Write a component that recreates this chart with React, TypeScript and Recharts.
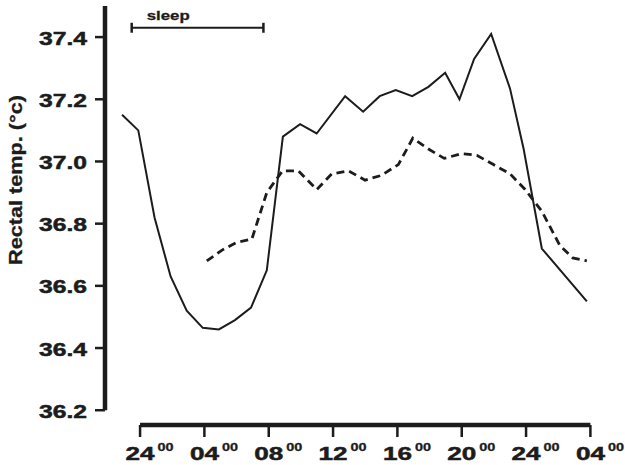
import React from 'react';
import { LineChart, Line, XAxis, YAxis, ReferenceLine } from 'recharts';

// ---- data ----
const solidHours = [-1.12, -0.11, 0.9, 1.9, 2.9, 3.9, 4.9, 5.9, 6.9, 7.88, 8.88, 9.95, 10.98, 12.75, 13.87, 14.9, 15.9, 16.92, 17.93, 18.97, 19.86, 20.77, 21.83, 23.0, 23.85, 24.98, 27.78];
const solidTemps = [37.15, 37.1, 36.82, 36.63, 36.52, 36.465, 36.46, 36.49, 36.53, 36.65, 37.08, 37.12, 37.09, 37.21, 37.16, 37.21, 37.23, 37.21, 37.24, 37.285, 37.2, 37.33, 37.41, 37.235, 37.04, 36.72, 36.55];

const dashedHours = [4.15, 5.1, 6.01, 6.95, 7.88, 8.86, 9.84, 10.99, 11.92, 12.95, 13.99, 14.99, 16.06, 16.96, 17.93, 18.91, 20.0, 20.94, 21.97, 23.01, 23.94, 24.98, 26.1, 26.9, 27.78];
const dashedTemps = [36.68, 36.715, 36.74, 36.75, 36.9, 36.97, 36.97, 36.91, 36.96, 36.97, 36.94, 36.955, 36.99, 37.075, 37.04, 37.01, 37.025, 37.02, 36.99, 36.96, 36.91, 36.84, 36.73, 36.69, 36.68];

const xTicks = [0, 4, 8, 12, 16, 20, 24, 28];
const xTickLabels = ['24', '04', '08', '12', '16', '20', '24', '04'];
const xTickSuper = '00';
const yTicks = [36.2, 36.4, 36.6, 36.8, 37.0, 37.2, 37.4];
const yTitle = 'Rectal temp. (°c)';
const sleepLabel = 'sleep';
const sleepStart = -0.52;
const sleepEnd = 7.67;
const sleepLevel = 37.43;
const sleepCapLow = 37.414;
const sleepCapHigh = 37.446;

const xDomain: [number, number] = [-2.18, 28.1];
const yDomain: [number, number] = [36.1525, 37.5];
const yAxisBottom = 36.2;
const yAxisTop = 37.5;
const xAxisStart = 0;
const xAxisEnd = 28;

const solidData = solidHours.map((h, i) => ({ h, t: solidTemps[i] }));
const dashedData = dashedHours.map((h, i) => ({ h, t: dashedTemps[i] }));

const INK = '#1c1c1c';
const FONT = '"Liberation Sans", Arial, Helvetica, sans-serif';

const XTick = (props: any) => {
  const { x, y, payload } = props;
  const idx = xTicks.indexOf(payload.value);
  const label = idx >= 0 ? xTickLabels[idx] : String(payload.value);
  return (
    <g>
      <text x={x - 14.5} y={y + 21} fontFamily={FONT} fontWeight="bold" fontSize={18.5} fill={INK}
        stroke={INK} strokeWidth={0.5} textLength={29} lengthAdjust="spacingAndGlyphs">{label}</text>
      <text x={x + 17.5} y={y + 12} fontFamily={FONT} fontWeight="bold" fontSize={11} fill={INK}
        stroke={INK} strokeWidth={0.3} textLength={16} lengthAdjust="spacingAndGlyphs">{xTickSuper}</text>
    </g>
  );
};

const YTick = (props: any) => {
  const { x, y, payload } = props;
  return (
    <text x={x - 54} y={y + 7.5} fontFamily={FONT} fontWeight="bold" fontSize={18} fill={INK}
      stroke={INK} strokeWidth={0.5} textLength={48} lengthAdjust="spacingAndGlyphs">{Number(payload.value).toFixed(1)}</text>
  );
};

const YTitle = () => (
  <text x={15 - 85} y={180} transform="rotate(-90, 15, 180)" fontFamily={FONT} fontWeight="bold" fontSize={18}
    fill={INK} stroke={INK} strokeWidth={0.3} textLength={170} lengthAdjust="spacingAndGlyphs" dy={7}>{yTitle}</text>
);

const SleepText = (props: any) => {
  const vb = props.viewBox || {};
  const x = vb.x !== undefined ? vb.x : vb.x1;
  const y = vb.y !== undefined ? vb.y : vb.y1;
  return (
    <text x={x + 15} y={y - 7.7} fontFamily={FONT} fontWeight="bold" fontSize={13} fill={INK}
      stroke={INK} strokeWidth={0.3} textLength={43} lengthAdjust="spacingAndGlyphs">{sleepLabel}</text>
  );
};

export default function App() {
  return (
    <div style={{ position: 'absolute', left: 0, top: 0, width: 625, height: 465, background: '#fff' }}>
      <LineChart width={625} height={465} margin={{ top: 6, right: 33, bottom: 0, left: 0 }}>
        <XAxis dataKey="h" type="number" domain={xDomain} ticks={xTicks} allowDataOverflow interval={0}
          axisLine={false} tickLine={{ stroke: INK, strokeWidth: 2.5 }} tickSize={12} height={40} tick={<XTick />} />
        <YAxis type="number" domain={yDomain} ticks={yTicks} allowDataOverflow interval={0}
          axisLine={false} tickLine={{ stroke: INK, strokeWidth: 2.5 }} tickSize={10} width={105}
          tick={<YTick />} label={<YTitle />} />
        <ReferenceLine segment={[{ x: xAxisStart, y: yDomain[0] }, { x: xAxisEnd, y: yDomain[0] }]}
          stroke={INK} strokeWidth={4.5} ifOverflow="visible" />
        <ReferenceLine segment={[{ x: xDomain[0], y: yAxisBottom }, { x: xDomain[0], y: yAxisTop }]}
          stroke={INK} strokeWidth={4.5} ifOverflow="visible" />
        <ReferenceLine segment={[{ x: sleepStart, y: sleepLevel }, { x: sleepEnd, y: sleepLevel }]}
          stroke={INK} strokeWidth={2} ifOverflow="visible" label={<SleepText />} />
        <ReferenceLine segment={[{ x: sleepStart, y: sleepCapLow }, { x: sleepStart, y: sleepCapHigh }]}
          stroke={INK} strokeWidth={2.5} ifOverflow="visible" />
        <ReferenceLine segment={[{ x: sleepEnd, y: sleepCapLow }, { x: sleepEnd, y: sleepCapHigh }]}
          stroke={INK} strokeWidth={2.5} ifOverflow="visible" />
        <Line data={solidData} dataKey="t" type="linear" stroke={INK} strokeWidth={2} dot={false}
          activeDot={false} isAnimationActive={false} />
        <Line data={dashedData} dataKey="t" type="linear" stroke={INK} strokeWidth={2.8} strokeDasharray="8 5"
          dot={false} activeDot={false} isAnimationActive={false} />
      </LineChart>
    </div>
  );
}
